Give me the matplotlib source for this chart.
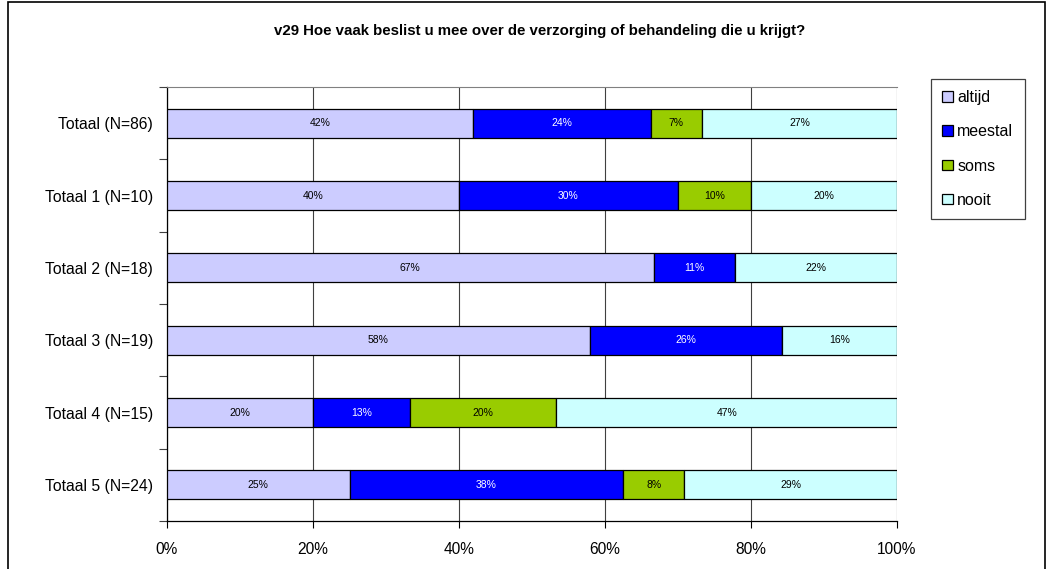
import numpy as np
import matplotlib.pyplot as plt
from matplotlib.patches import Rectangle

plt.rcParams['font.family'] = ['Liberation Sans', 'DejaVu Sans']

# answer counts per group (altijd, meestal, soms, nooit)
groups = ['Totaal (N=86)', 'Totaal 1 (N=10)', 'Totaal 2 (N=18)',
          'Totaal 3 (N=19)', 'Totaal 4 (N=15)', 'Totaal 5 (N=24)']
altijd = [36, 4, 12, 11, 3, 6]
meestal = [21, 3, 2, 5, 2, 9]
soms = [6, 1, 0, 0, 3, 2]
nooit = [23, 2, 4, 3, 7, 7]
series_names = ['altijd', 'meestal', 'soms', 'nooit']
colors = ['#CCCCFF', '#0000FF', '#99CC00', '#CCFFFF']
text_colors = ['black', 'white', 'black', 'black']
xticks = [0, 0.2, 0.4, 0.6, 0.8, 1.0]
xtick_labels = ['0%', '20%', '40%', '60%', '80%', '100%']
title = 'v29 Hoe vaak beslist u mee over de verzorging of behandeling die u krijgt?'

counts = np.array([altijd, meestal, soms, nooit], dtype=float)
shares = counts / counts.sum(axis=0)

fig = plt.figure(figsize=(10.53, 5.69), dpi=100)
ax = fig.add_axes([167 / 1053, 1 - 521 / 569, 730 / 1053, 434 / 569])

y = np.arange(len(groups))
left = np.zeros(len(groups))
for i in range(4):
    bars = ax.barh(y, shares[i], left=left, height=0.4, color=colors[i],
                   edgecolor='black', linewidth=0.9, label=series_names[i], zorder=3)
    for j, b in enumerate(bars):
        if shares[i][j] > 0:
            ax.text(left[j] + shares[i][j] / 2, y[j], '%.0f%%' % (shares[i][j] * 100),
                    ha='center', va='center', fontsize=7.5, color=text_colors[i], zorder=4)
    left = left + shares[i]

ax.set_xlim(0, 1)
ax.set_ylim(len(groups) - 0.5, -0.5)
ax.set_xticks(xticks)
ax.set_xticklabels(xtick_labels, fontsize=11.2)
ax.set_yticks(y)
ax.set_yticklabels(groups, fontsize=11.3)
ax.set_yticks(np.arange(len(groups) + 1) - 0.5, minor=True)
ax.tick_params(axis='y', which='major', length=0, pad=10)
ax.tick_params(axis='y', which='minor', length=6, width=0.8, color='#404040')
ax.tick_params(axis='x', length=5, width=0.8, pad=10)
ax.xaxis.grid(True, color='#404040', linewidth=0.8, zorder=0)
ax.spines['right'].set_visible(False)
ax.spines['top'].set_color('#808080')
for s in ['left', 'bottom']:
    ax.spines[s].set_linewidth(0.9)

fig.text(0.512, 1 - 31 / 569, title, ha='center', va='center',
         fontsize=10.8, fontweight='bold')

leg = fig.legend(loc='upper left', bbox_to_anchor=(931 / 1053, 1 - 79 / 569),
                 borderaxespad=0, fancybox=False, edgecolor='#404040', framealpha=1,
                 fontsize=11.5, labelspacing=1.2, handlelength=0.65, handleheight=0.65,
                 handletextpad=0.3, borderpad=0.7)
leg.get_frame().set_linewidth(0.9)

fig.patches.append(Rectangle((8 / 1053, -0.05), 1037 / 1053, 1.05 - 1.5 / 569,
                             transform=fig.transFigure, fill=False,
                             edgecolor='black', linewidth=1.2))

fig.savefig('out.png', dpi=100)
